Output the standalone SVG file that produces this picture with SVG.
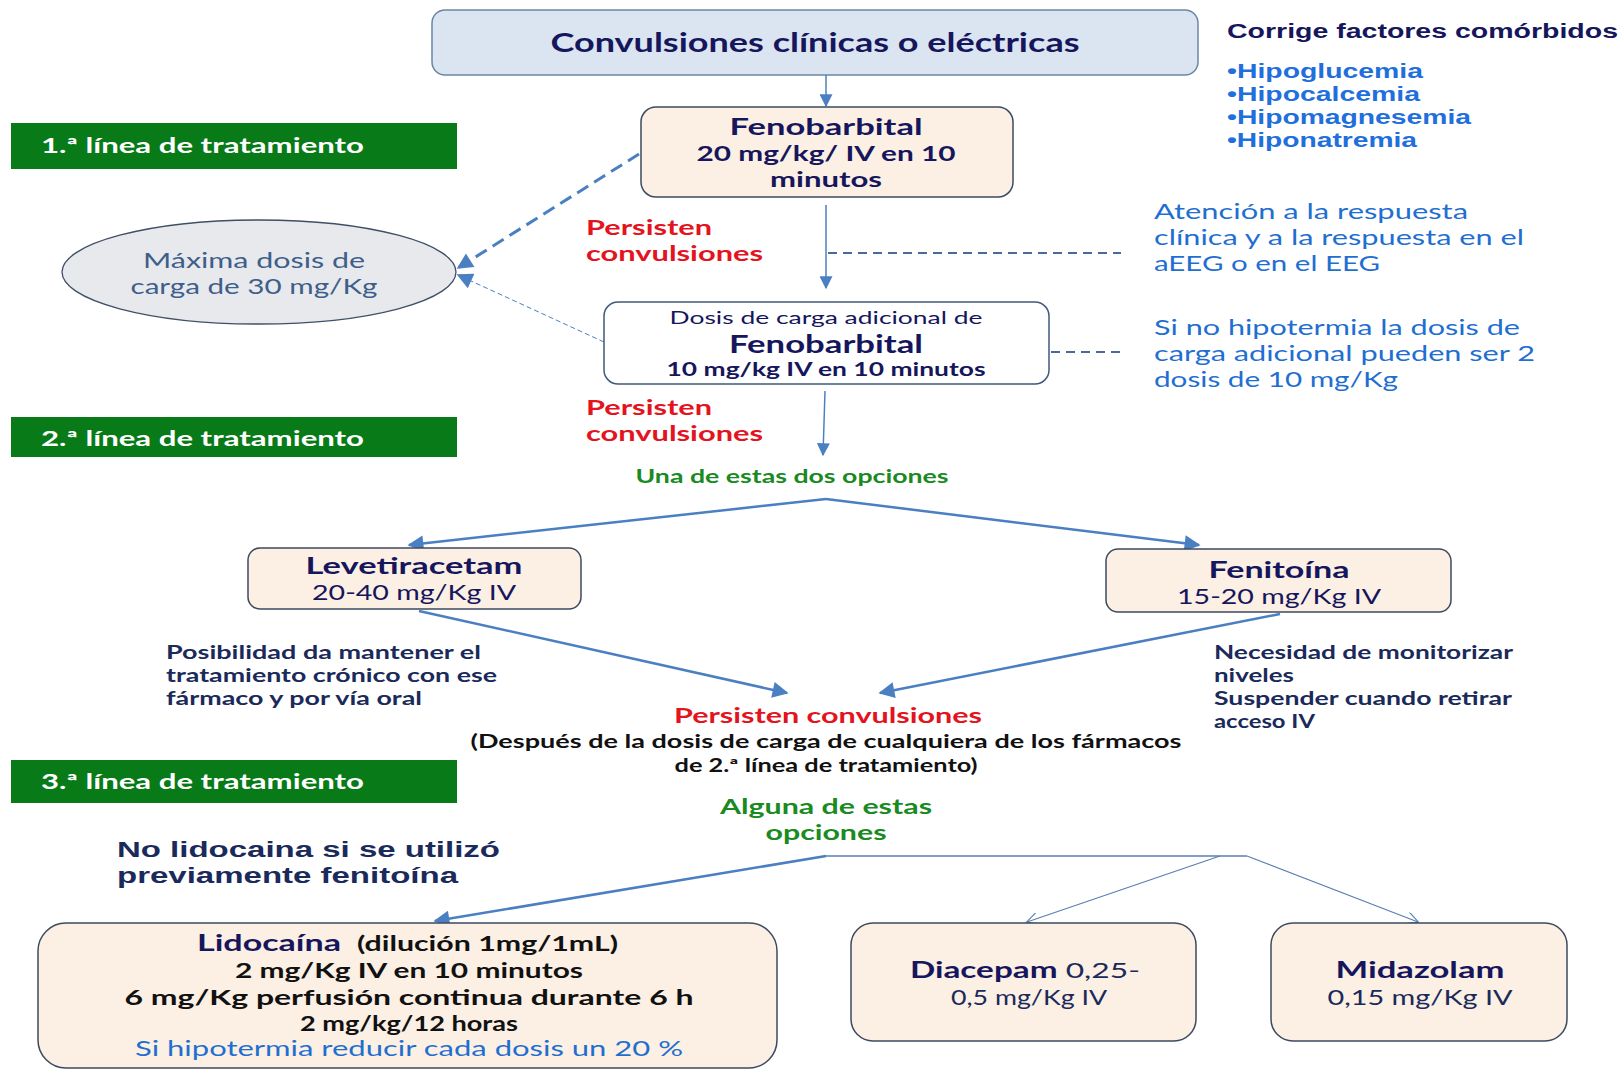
<svg xmlns="http://www.w3.org/2000/svg" width="1623" height="1071" viewBox="0 0 1623 1071">
<defs>
<marker id="arr" viewBox="0 0 10 10" refX="9" refY="5" markerWidth="19" markerHeight="16" markerUnits="userSpaceOnUse" orient="auto"><path d="M0,0 L10,5 L0,10 z" fill="#4a7fc1"/></marker>
<marker id="arrs" viewBox="0 0 10 10" refX="9" refY="5" markerWidth="15" markerHeight="13" markerUnits="userSpaceOnUse" orient="auto"><path d="M0,0 L10,5 L0,10 z" fill="#4a7fc1"/></marker>
<marker id="open" viewBox="0 0 10 10" refX="9.5" refY="5" markerWidth="14" markerHeight="12" markerUnits="userSpaceOnUse" orient="auto"><path d="M0,0 L10,5 L0,10" fill="none" stroke="#5a7fb0" stroke-width="1"/></marker>
</defs>
<style>
.c{font-family:Lato,"Open Sans","DejaVu Sans",sans-serif}
.a{font-family:"Liberation Sans",Arial,sans-serif;font-weight:bold}
.b{font-weight:bold}
.navy{fill:#16165c}
.red{fill:#e3141e;font-weight:bold}
.grn{fill:#1a8a22;font-weight:bold}
.blue{fill:#1f6fd1}
.blk{fill:#111}
.bar{fill:#087a18}
.bart{fill:#fff;font-weight:bold;font-size:21px}
.peach{fill:#fcefe4;stroke:#3d4a60;stroke-width:1.5}
.ln{stroke:#4a7fc1;fill:none}
</style>
<rect width="1623" height="1071" fill="#fff"/>

<g id="connectors">
<line class="ln" x1="826" y1="75" x2="826" y2="106" stroke-width="1.5" marker-end="url(#arrs)"/>
<line class="ln" x1="826" y1="205" x2="826" y2="288" stroke-width="1.5" marker-end="url(#arrs)"/>
<line class="ln" x1="825" y1="391" x2="823" y2="455" stroke-width="1.5" marker-end="url(#arrs)"/>
<line class="ln" x1="639" y1="154" x2="458" y2="268" stroke-width="3" stroke-dasharray="13 7" marker-end="url(#arr)"/>
<line class="ln" x1="604" y1="342" x2="458" y2="275" stroke-width="1" stroke-dasharray="5 3" marker-end="url(#arr)"/>
<line x1="828" y1="253" x2="1121" y2="253" stroke="#4a6a9a" stroke-width="2" stroke-dasharray="9 6"/>
<line x1="1051" y1="352" x2="1125" y2="352" stroke="#4a6a9a" stroke-width="2" stroke-dasharray="9 6"/>
<line class="ln" x1="826" y1="499" x2="409" y2="545" stroke-width="2.5" marker-end="url(#arr)"/>
<line class="ln" x1="826" y1="499" x2="1199" y2="545" stroke-width="2.5" marker-end="url(#arr)"/>
<line class="ln" x1="419" y1="611" x2="787" y2="693" stroke-width="2.5" marker-end="url(#arr)"/>
<line class="ln" x1="1280" y1="614" x2="880" y2="693" stroke-width="2.5" marker-end="url(#arr)"/>
<line class="ln" x1="826" y1="856" x2="435" y2="921" stroke-width="2.5" marker-end="url(#arr)"/>
<line x1="826" y1="856" x2="1247" y2="856" stroke="#5a7fb0" stroke-width="1.5"/>
<line x1="1220" y1="856" x2="1027" y2="922" stroke="#5a7fb0" stroke-width="1.2" marker-end="url(#open)"/>
<line x1="1247" y1="856" x2="1418" y2="922" stroke="#5a7fb0" stroke-width="1.2" marker-end="url(#open)"/>
</g>

<g id="n-top">
<rect x="432" y="10" width="766" height="65" rx="13" fill="#dbe5f1" stroke="#6b86a6" stroke-width="1.5"/>
<text class="c b navy" x="815" y="52" font-size="27" text-anchor="middle" textLength="529" lengthAdjust="spacingAndGlyphs">Convulsiones clínicas o eléctricas</text>
</g>

<g id="n-comorb">
<text class="a" x="1227" y="38" font-size="20" fill="#16165c" textLength="391" lengthAdjust="spacingAndGlyphs">Corrige factores comórbidos</text>
<text class="a" x="1227" y="78" font-size="20" fill="#1f6fdc" textLength="196" lengthAdjust="spacingAndGlyphs">•Hipoglucemia</text>
<text class="a" x="1227" y="101" font-size="20" fill="#1f6fdc" textLength="193" lengthAdjust="spacingAndGlyphs">•Hipocalcemia</text>
<text class="a" x="1227" y="124" font-size="20" fill="#1f6fdc" textLength="244" lengthAdjust="spacingAndGlyphs">•Hipomagnesemia</text>
<text class="a" x="1227" y="147" font-size="20" fill="#1f6fdc" textLength="190" lengthAdjust="spacingAndGlyphs">•Hiponatremia</text>
</g>

<g id="n-line1">
<rect class="bar" x="11" y="123" width="446" height="46"/>
<text class="c bart" x="41" y="153" textLength="323" lengthAdjust="spacingAndGlyphs">1.ª línea de tratamiento</text>
</g>

<g id="n-feno">
<rect class="peach" x="641" y="107" width="372" height="90" rx="15"/>
<text class="c b navy" x="826" y="135" font-size="23" text-anchor="middle" textLength="193" lengthAdjust="spacingAndGlyphs">Fenobarbital</text>
<text class="c b navy" x="826" y="161" font-size="21" text-anchor="middle" textLength="259" lengthAdjust="spacingAndGlyphs">20 mg/kg/ IV en 10</text>
<text class="c b navy" x="826" y="187" font-size="21" text-anchor="middle" textLength="112" lengthAdjust="spacingAndGlyphs">minutos</text>
</g>

<g id="n-max">
<ellipse cx="259" cy="272" rx="197" ry="52" fill="#e8e9ec" stroke="#404f66" stroke-width="1.3"/>
<text class="c" x="254" y="268" font-size="21" fill="#3d5f8a" text-anchor="middle" textLength="222" lengthAdjust="spacingAndGlyphs">Máxima dosis de</text>
<text class="c" x="254" y="294" font-size="21" fill="#3d5f8a" text-anchor="middle" textLength="247" lengthAdjust="spacingAndGlyphs">carga de 30 mg/Kg</text>
</g>

<g id="n-persist1">
<text class="c red" x="586" y="235" font-size="21" textLength="126" lengthAdjust="spacingAndGlyphs">Persisten</text>
<text class="c red" x="586" y="261" font-size="21" textLength="177" lengthAdjust="spacingAndGlyphs">convulsiones</text>
</g>

<g id="n-atencion">
<text class="c blue" x="1154" y="219" font-size="22" textLength="314" lengthAdjust="spacingAndGlyphs">Atención a la respuesta</text>
<text class="c blue" x="1154" y="245" font-size="22" textLength="370" lengthAdjust="spacingAndGlyphs">clínica y a la respuesta en el</text>
<text class="c blue" x="1154" y="271" font-size="22" textLength="226" lengthAdjust="spacingAndGlyphs">aEEG o en el EEG</text>
</g>

<g id="n-dosis">
<rect x="604" y="302" width="445" height="82" rx="14" fill="#fff" stroke="#3f5a7a" stroke-width="1.5"/>
<text class="c navy" x="826" y="324" font-size="18" text-anchor="middle" textLength="313" lengthAdjust="spacingAndGlyphs">Dosis de carga adicional de</text>
<text class="c b navy" x="826" y="353" font-size="24" text-anchor="middle" textLength="194" lengthAdjust="spacingAndGlyphs">Fenobarbital</text>
<text class="c b navy" x="826" y="376" font-size="18" text-anchor="middle" textLength="319" lengthAdjust="spacingAndGlyphs">10 mg/kg IV en 10 minutos</text>
</g>

<g id="n-sino">
<text class="c blue" x="1154" y="335" font-size="22" textLength="366" lengthAdjust="spacingAndGlyphs">Si no hipotermia la dosis de</text>
<text class="c blue" x="1154" y="361" font-size="22" textLength="381" lengthAdjust="spacingAndGlyphs">carga adicional pueden ser 2</text>
<text class="c blue" x="1154" y="387" font-size="22" textLength="244" lengthAdjust="spacingAndGlyphs">dosis de 10 mg/Kg</text>
</g>

<g id="n-persist2">
<text class="c red" x="586" y="415" font-size="21" textLength="126" lengthAdjust="spacingAndGlyphs">Persisten</text>
<text class="c red" x="586" y="441" font-size="21" textLength="177" lengthAdjust="spacingAndGlyphs">convulsiones</text>
</g>

<g id="n-line2">
<rect class="bar" x="11" y="417" width="446" height="40"/>
<text class="c bart" x="41" y="446" textLength="323" lengthAdjust="spacingAndGlyphs">2.ª línea de tratamiento</text>
</g>

<g id="n-una">
<text class="c grn" x="792" y="483" font-size="18" text-anchor="middle" textLength="313" lengthAdjust="spacingAndGlyphs">Una de estas dos opciones</text>
</g>

<g id="n-leve">
<rect class="peach" x="248" y="548" width="333" height="61" rx="12"/>
<text class="c b navy" x="414" y="574" font-size="23" text-anchor="middle" textLength="217" lengthAdjust="spacingAndGlyphs">Levetiracetam</text>
<text class="c navy" x="414" y="600" font-size="21" text-anchor="middle" textLength="204" lengthAdjust="spacingAndGlyphs">20-40 mg/Kg IV</text>
</g>

<g id="n-feni">
<rect class="peach" x="1106" y="549" width="345" height="63" rx="12"/>
<text class="c b navy" x="1279" y="578" font-size="23" text-anchor="middle" textLength="141" lengthAdjust="spacingAndGlyphs">Fenitoína</text>
<text class="c navy" x="1279" y="604" font-size="21" text-anchor="middle" textLength="204" lengthAdjust="spacingAndGlyphs">15-20 mg/Kg IV</text>
</g>

<g id="n-posib">
<text class="c b" x="166" y="659" font-size="18" fill="#1a2a5a" textLength="315" lengthAdjust="spacingAndGlyphs">Posibilidad da mantener el</text>
<text class="c b" x="166" y="682" font-size="18" fill="#1a2a5a" textLength="331" lengthAdjust="spacingAndGlyphs">tratamiento crónico con ese</text>
<text class="c b" x="166" y="705" font-size="18" fill="#1a2a5a" textLength="256" lengthAdjust="spacingAndGlyphs">fármaco y por vía oral</text>
</g>

<g id="n-neces">
<text class="c b" x="1214" y="659" font-size="18" fill="#1a2a5a" textLength="299" lengthAdjust="spacingAndGlyphs">Necesidad de monitorizar</text>
<text class="c b" x="1214" y="682" font-size="18" fill="#1a2a5a" textLength="80" lengthAdjust="spacingAndGlyphs">niveles</text>
<text class="c b" x="1214" y="705" font-size="18" fill="#1a2a5a" textLength="298" lengthAdjust="spacingAndGlyphs">Suspender cuando retirar</text>
<text class="c b" x="1214" y="728" font-size="18" fill="#1a2a5a" textLength="101" lengthAdjust="spacingAndGlyphs">acceso IV</text>
</g>

<g id="n-persist3">
<text class="c red" x="828" y="723" font-size="21" text-anchor="middle" textLength="308" lengthAdjust="spacingAndGlyphs">Persisten convulsiones</text>
<text class="c b blk" x="826" y="748" font-size="18" text-anchor="middle" textLength="711" lengthAdjust="spacingAndGlyphs">(Después de la dosis de carga de cualquiera de los fármacos</text>
<text class="c b blk" x="826" y="772" font-size="18" text-anchor="middle" textLength="303" lengthAdjust="spacingAndGlyphs">de 2.ª línea de tratamiento)</text>
</g>

<g id="n-line3">
<rect class="bar" x="11" y="760" width="446" height="43"/>
<text class="c bart" x="41" y="789" textLength="323" lengthAdjust="spacingAndGlyphs">3.ª línea de tratamiento</text>
</g>

<g id="n-alguna">
<text class="c grn" x="826" y="814" font-size="21" text-anchor="middle" textLength="212" lengthAdjust="spacingAndGlyphs">Alguna de estas</text>
<text class="c grn" x="826" y="840" font-size="21" text-anchor="middle" textLength="121" lengthAdjust="spacingAndGlyphs">opciones</text>
</g>

<g id="n-nolido">
<text class="a" x="117" y="857" font-size="22" fill="#1a2a5a" textLength="383" lengthAdjust="spacingAndGlyphs">No lidocaina si se utilizó</text>
<text class="a" x="117" y="883" font-size="22" fill="#1a2a5a" textLength="341" lengthAdjust="spacingAndGlyphs">previamente fenitoína</text>
</g>

<g id="n-lido">
<rect class="peach" x="38" y="923" width="739" height="145" rx="28"/>
<text class="c b navy" x="197" y="951" font-size="23" textLength="144" lengthAdjust="spacingAndGlyphs">Lidocaína</text>
<text class="c b blk" x="357" y="951" font-size="20" textLength="261" lengthAdjust="spacingAndGlyphs">(dilución 1mg/1mL)</text>
<text class="c b blk" x="409" y="978" font-size="21" text-anchor="middle" textLength="348" lengthAdjust="spacingAndGlyphs">2 mg/Kg IV en 10 minutos</text>
<text class="c b blk" x="409" y="1005" font-size="21" text-anchor="middle" textLength="569" lengthAdjust="spacingAndGlyphs">6 mg/Kg perfusión continua durante 6 h</text>
<text class="c b blk" x="409" y="1031" font-size="21" text-anchor="middle" textLength="218" lengthAdjust="spacingAndGlyphs">2 mg/kg/12 horas</text>
<text class="c blue" x="409" y="1056" font-size="21" text-anchor="middle" textLength="548" lengthAdjust="spacingAndGlyphs">Si  hipotermia reducir cada dosis un 20 %</text>
</g>

<g id="n-diace">
<rect class="peach" x="851" y="923" width="345" height="118" rx="22"/>
<text class="c" x="1025" y="978" text-anchor="middle" font-size="21" textLength="230" lengthAdjust="spacingAndGlyphs"><tspan class="b navy" font-size="22">Diacepam</tspan><tspan fill="#1a2a5a"> 0,25-</tspan></text>
<text class="c" x="1029" y="1005" font-size="21" fill="#1a2a5a" text-anchor="middle" textLength="156" lengthAdjust="spacingAndGlyphs">0,5 mg/Kg IV</text>
</g>

<g id="n-mida">
<rect class="peach" x="1271" y="923" width="296" height="118" rx="22"/>
<text class="c b navy" x="1420" y="978" font-size="22" text-anchor="middle" textLength="169" lengthAdjust="spacingAndGlyphs">Midazolam</text>
<text class="c" x="1420" y="1005" font-size="21" fill="#1a2a5a" text-anchor="middle" textLength="185" lengthAdjust="spacingAndGlyphs">0,15 mg/Kg IV</text>
</g>
</svg>
